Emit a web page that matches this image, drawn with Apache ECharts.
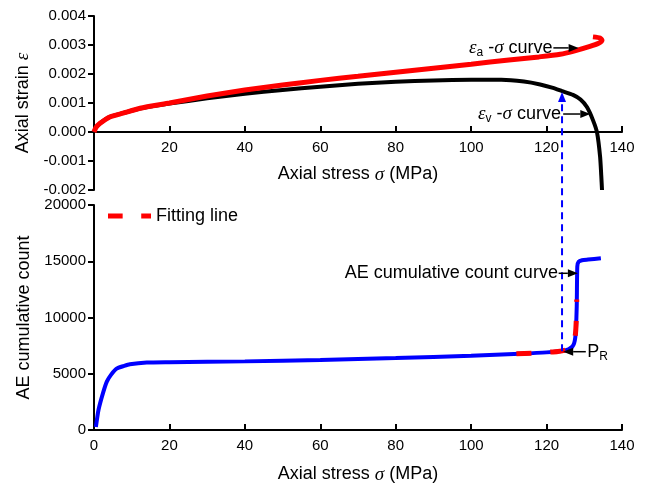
<!DOCTYPE html>
<html>
<head>
<meta charset="utf-8">
<script src="https://cdn.jsdelivr.net/npm/echarts@6/dist/echarts.min.js"></script>
<style>
html, body { margin: 0; padding: 0; background: #fff; }
#chart { width: 650px; height: 490px; }
</style>
</head>
<body>
<div id="chart"></div>
<script>
// axial strain vs axial stress (MPa)
const strainA = [[0,0],[0.5,0.00015],[1.6,0.0003],[4.2,0.00052],[7.7,0.00065],[12.2,0.00082],[20,0.001],[30,0.00124],[40,0.00145],[50,0.00162],[60,0.00178],[70,0.00192],[80,0.00206],[90,0.0022],[100,0.00234],[110,0.00248],[118,0.00259],[123.6,0.00268],[127,0.00278],[131.5,0.00295],[133.8,0.00306],[134.7,0.00316],[134.2,0.00324],[132.3,0.00328]];
const strainV = [[0,0],[0.5,0.00015],[1.6,0.0003],[4.2,0.00052],[7.7,0.00065],[12.2,0.00081],[20,0.00098],[30,0.00116],[40,0.00132],[50,0.00145],[60,0.00156],[70,0.00166],[80,0.00173],[90,0.00178],[100,0.0018],[108,0.0018],[114,0.00174],[118.3,0.00164],[121.7,0.00152],[124.1,0.00141],[127,0.00128],[129,0.00112],[130.7,0.00086],[132.3,0.00041],[133.4,-0.00003],[134.2,-0.00086],[134.5,-0.0015],[134.7,-0.002]];
// AE cumulative count vs axial stress
const aeCount = [[0.5,270],[1.2,1800],[2.4,3300],[3.4,4300],[4.5,4900],[6,5450],[8,5700],[9.5,5850],[14,6000],[20,6030],[40,6100],[60,6230],[80,6400],[100,6600],[113,6780],[120,6900],[124.4,7050],[125.8,7180],[126.8,7400],[127.3,7700],[127.6,8200],[127.8,9000],[128,11000],[128.15,14550],[128.5,14950],[129.4,15090],[131,15150],[134.4,15270]];
const fitLine = [[112,6770],[116,6830],[120,6900],[123,6980],[125,7100],[126.5,7350],[127.3,7800],[127.7,8700],[127.9,10000],[128,11600]];

const stressTicks = [0, 140, 20];
const strainTicks = [-0.002, 0.004, 0.001];
const countTicks = [0, 20000, 5000];

// annotation anchors in data space
const prStress = 124.1;
const prCount = 7000;
const prStrainTip = 0.00138;

const FONT = "'Liberation Sans', Arial, sans-serif";
const SERIF = "'Liberation Serif', 'DejaVu Serif', serif";

const chart = echarts.init(document.getElementById("chart"));

const topGrid = { left: 94, top: 16, width: 528, height: 174 };
// x axis of the top panel sits on strain = 0
const zeroOffset = -topGrid.height * (0 - strainTicks[0]) / (strainTicks[1] - strainTicks[0]);

const axisLineStyle = { lineStyle: { color: "#000", width: 2 } };
const labelStyle = { color: "#000", fontSize: 15, fontFamily: FONT };
const nameStyle = {
  color: "#000", fontSize: 18, fontFamily: FONT,
  rich: { e: { fontStyle: "italic", fontFamily: SERIF, fontSize: 19, color: "#000" } },
};

chart.setOption({
  animation: false,
  grid: [
    topGrid,
    { left: 94, top: 205, width: 528, height: 225 },
  ],
  legend: {
    data: ["Fitting line"],
    left: 108,
    top: 207,
    padding: 0,
    icon: "path://M0,0H15V5H0Z M34,0H44V5H34Z",
    itemWidth: 43,
    itemHeight: 5,
    itemGap: 4,
    textStyle: { color: "#000", fontSize: 18, fontFamily: FONT },
  },
  xAxis: [
    {
      gridIndex: 0, type: "value",
      min: stressTicks[0], max: stressTicks[1], interval: stressTicks[2],
      axisLine: { onZero: false, ...axisLineStyle },
      offset: zeroOffset,
      axisTick: { inside: true, length: 6, lineStyle: { width: 2, color: "#000" } },
      axisLabel: { ...labelStyle, margin: 8, formatter: (v) => (v === 0 ? "" : String(v)) },
      splitLine: { show: false },
      name: "Axial stress {e|σ} (MPa)",
      nameLocation: "middle", nameGap: 33, nameTextStyle: nameStyle,
    },
    {
      gridIndex: 1, type: "value",
      min: stressTicks[0], max: stressTicks[1], interval: stressTicks[2],
      axisLine: axisLineStyle,
      axisTick: { inside: true, length: 6, lineStyle: { width: 2, color: "#000" } },
      axisLabel: { ...labelStyle, margin: 8, formatter: (v) => String(v) },
      splitLine: { show: false },
      name: "Axial stress {e|σ} (MPa)",
      nameLocation: "middle", nameGap: 35, nameTextStyle: nameStyle,
    },
  ],
  yAxis: [
    {
      gridIndex: 0, type: "value",
      min: strainTicks[0], max: strainTicks[1], interval: strainTicks[2],
      axisLine: { show: true, onZero: false, ...axisLineStyle },
      axisTick: { show: true, length: 6, lineStyle: { width: 2, color: "#000" } },
      axisLabel: { ...labelStyle, margin: 8, formatter: (v) => v.toFixed(3) },
      splitLine: { show: false },
      name: "Axial strain {e|ε}",
      nameLocation: "middle", nameGap: 60, nameTextStyle: nameStyle,
    },
    {
      gridIndex: 1, type: "value",
      min: countTicks[0], max: countTicks[1], interval: countTicks[2],
      axisLine: { show: true, onZero: false, ...axisLineStyle },
      axisTick: { show: true, length: 6, lineStyle: { width: 2, color: "#000" } },
      axisLabel: { ...labelStyle, margin: 8, formatter: (v) => String(v) },
      splitLine: { show: false },
      name: "AE cumulative count",
      nameLocation: "middle", nameGap: 60, nameTextStyle: nameStyle,
    },
  ],
  series: [
    {
      name: "εv", type: "line", xAxisIndex: 0, yAxisIndex: 0,
      data: strainV, symbol: "none", smooth: 0.2,
      lineStyle: { color: "#000", width: 4 },
    },
    {
      name: "εa", type: "line", xAxisIndex: 0, yAxisIndex: 0,
      data: strainA, symbol: "none", smooth: 0.2,
      lineStyle: { color: "#ff0000", width: 5 },
    },
    {
      name: "AE", type: "line", xAxisIndex: 1, yAxisIndex: 1,
      data: aeCount, symbol: "none", smooth: 0.2,
      lineStyle: { color: "#0000ff", width: 4 },
    },
    {
      name: "Fitting line", type: "line", xAxisIndex: 1, yAxisIndex: 1,
      data: fitLine, symbol: "none", smooth: 0.2, z: 5,
      itemStyle: { color: "#ff0000" },
      lineStyle: { color: "#ff0000", width: 5, type: [15, 19] },
    },
  ],
});

const P0 = (v) => chart.convertToPixel({ gridIndex: 0 }, v);
const P1 = (v) => chart.convertToPixel({ gridIndex: 1 }, v);

function arrow(a, b, color, dash) {
  const dx = b[0] - a[0], dy = b[1] - a[1];
  const len = Math.hypot(dx, dy);
  const ux = dx / len, uy = dy / len;
  const hl = 10, hw = 4;
  const base = [b[0] - ux * hl, b[1] - uy * hl];
  return [
    {
      type: "line", z: 100,
      shape: { x1: a[0], y1: a[1], x2: base[0], y2: base[1] },
      style: { stroke: color, lineWidth: dash ? 2 : 1.5, lineDash: dash || null },
    },
    {
      type: "polygon", z: 100,
      shape: { points: [b, [base[0] - uy * hw, base[1] + ux * hw], [base[0] + uy * hw, base[1] - ux * hw]] },
      style: { fill: color },
    },
  ];
}

function label(p, text, align) {
  return {
    type: "text", z: 100, x: p[0], y: p[1],
    style: {
      text, align, verticalAlign: "middle",
      fill: "#000", fontSize: 18, fontFamily: FONT,
      rich: {
        e: { fontStyle: "italic", fontFamily: SERIF, fontSize: 19, lineHeight: 21, verticalAlign: "middle" },
        n: { fontSize: 18, fontFamily: FONT, lineHeight: 21 },
        s: { fontSize: 12, fontFamily: FONT, lineHeight: 21, verticalAlign: "bottom" },
      },
    },
  };
}

const g = [];
// blue dashed arrow from P_R up to the volumetric strain curve
const pBottom = P1([prStress, prCount]);
const pTop = [pBottom[0], P0([prStress, prStrainTip])[1]];
g.push(...arrow(pBottom, pTop, "#0000ff", [7, 5]));

g.push(...arrow(P0([121.8, 0.0029]), P0([128.5, 0.0029]), "#000"));
g.push(label(P0([121.6, 0.0029]), "{e|ε}{s|a}{n| -}{e|σ}{n| curve}", "right"));

g.push(...arrow(P0([124.4, 0.00062]), P0([131.6, 0.00062]), "#000"));
g.push(label(P0([123.8, 0.00062]), "{e|ε}{s|v}{n| -}{e|σ}{n| curve}", "right"));

g.push(...arrow(P1([123.2, 13930]), P1([128.3, 13930]), "#000"));
g.push(label(P1([123, 13930]), "{n|AE cumulative count curve}", "right"));

g.push(...arrow(P1([130.4, 6960]), P1([124.4, 6960]), "#000"));
g.push(label(P1([130.8, 6960]), "{n|P}{s|R}", "left"));

chart.setOption({ graphic: g });
</script>
</body>
</html>
